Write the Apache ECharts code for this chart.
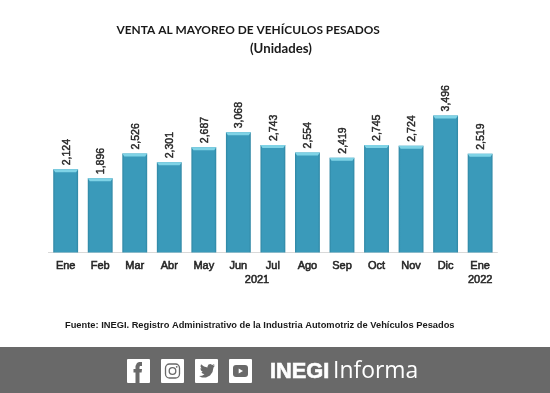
<!DOCTYPE html>
<html><head><meta charset="utf-8">
<style>html,body{margin:0;padding:0;background:#fff}#c{width:550px;height:393px}</style>
<script src="https://cdn.jsdelivr.net/npm/echarts@6/dist/echarts.min.js"></script>
</head><body><div id="c"></div>
<script>
const months = ['Ene','Feb','Mar','Abr','May','Jun','Jul','Ago','Sep','Oct','Nov','Dic','Ene\n2022'];
const ventas = [2124,1896,2526,2301,2687,3068,2743,2554,2419,2745,2724,3496,2519];
const titleText = 'VENTA AL MAYOREO DE VEHÍCULOS PESADOS';
const subtitleText = '(Unidades)';
const yearText = '2021';
const sourceText = 'Fuente: INEGI. Registro Administrativo de la Industria Automotriz de Vehículos Pesados';
const chart = echarts.init(document.getElementById('c'), null, {renderer:'canvas'});
const G = '#696969';
function txt(x,y,text,font,fill,align,extra){return {type:'text',x,y,silent:true,style:Object.assign({text,font,fill,align:align||'left',verticalAlign:'middle'},extra||{})};}
const sq = (x) => ({type:'rect',shape:{x,y:359,width:23,height:24,r:1},style:{fill:'#fff'}});
const bodyGrad = new echarts.graphic.LinearGradient(0,0,1,0,[
 {offset:0,color:'#2f86a3'},{offset:0.08,color:'#3a9aba'},{offset:0.92,color:'#3a9aba'},{offset:1,color:'#2f86a3'}]);
chart.setOption({
 animation:false,
 backgroundColor:'#fff',
 grid:{left:48.4,top:95.7,width:449,height:156.8},
 xAxis:{type:'category',data:months,
  axisTick:{show:false},axisLine:{lineStyle:{color:'#d9d9d9',width:1}},
  axisLabel:{interval:0,color:'#262626',fontFamily:'Liberation Sans',fontSize:11,textBorderColor:'#262626',textBorderWidth:0.55,margin:6,lineHeight:14.5}},
 yAxis:{type:'value',min:0,max:4000,show:false,splitLine:{show:false}},
 series:[{type:'custom',data:ventas,clip:false,
  renderItem(params,api){
   const i=api.value(0),v=api.value(1);
   const top=api.coord([i,v]),base=api.coord([i,0]);
   const w=api.size([1,0])[0]*0.72,x=top[0]-w/2;
   return {type:'group',children:[
    {type:'rect',shape:{x:x,y:top[1],width:w,height:base[1]-top[1]},style:{fill:bodyGrad}},
    {type:'polygon',shape:{points:[[x,top[1]],[x+w,top[1]],[x+w-2,top[1]+3],[x+2,top[1]+3]]},style:{fill:'#7fd3e6'}},
    {type:'text',x:top[0]+1,y:top[1]-4,rotation:Math.PI/2,style:{text:api.value(1).toLocaleString('en-US'),font:'10.5px "Liberation Sans"',fill:'#262626',stroke:'#262626',lineWidth:0.45,align:'left',verticalAlign:'middle'}}
   ]};
  },
  encode:{x:0,y:1}
 }],
 graphic:[
  txt(116.5,30.5,titleText,'bold 11.9px Lato','#1a1a1a'),
  txt(250,48.3,subtitleText,'bold 13.2px Lato','#1a1a1a'),
  txt(257,279.5,yearText,'11px "Liberation Sans"','#262626','center',{stroke:'#262626',lineWidth:0.55}),
  txt(65,325,sourceText,'bold 9.3px "Liberation Sans"','#1a1a1a'),
  {type:'rect',shape:{x:0,y:347,width:550,height:46},style:{fill:G}},
  sq(127),sq(161),sq(195),sq(229),
  {type:'polygon',shape:{points:[[142,362],[142,366],[140,366],[139.5,367],[139.5,369],[142,369],[141.6,372.5],[139.5,372.5],[139.5,383],[135.5,383],[135.5,372.5],[133.5,372.5],[133.5,369],[135.5,369],[135.5,366],[137,363],[139,362]]},style:{fill:G}},
  {type:'rect',shape:{x:165.5,y:364,width:14,height:14,r:4},style:{fill:'none',stroke:G,lineWidth:1.3}},
  {type:'circle',shape:{cx:172.5,cy:371,r:3.3},style:{fill:'none',stroke:G,lineWidth:1.3}},
  {type:'circle',shape:{cx:176.7,cy:366.8,r:0.9},style:{fill:G}},
  {type:'polygon',shape:{points:[[199,376],[202,377.5],[206,377.5],[210,375.5],[212.5,372],[213.5,367.5],[215,365.5],[213.2,366],[214.5,364],[212.3,365],[210.5,364],[208.5,364.5],[207.5,366.5],[207.5,367.5],[204,366.5],[201,364.3],[200.5,366.5],[201.5,368.5],[200.3,368.2],[201,370.5],[202.8,372],[201.3,372],[202.5,373.5],[204.5,374.3],[202,375.8]]},style:{fill:G}},
  {type:'rect',shape:{x:233,y:365,width:15,height:12,r:3},style:{fill:G}},
  {type:'polygon',shape:{points:[[238.7,368.5],[238.7,373.5],[243,371]]},style:{fill:'#fff'}},
  txt(270,371.5,'INEGI','bold 21.8px "Liberation Sans"','#fff','left',{stroke:'#fff',lineWidth:0.6}),
  txt(333,371.5,'Informa','22.9px "Open Sans"','#fff')
 ]
});
</script></body></html>
